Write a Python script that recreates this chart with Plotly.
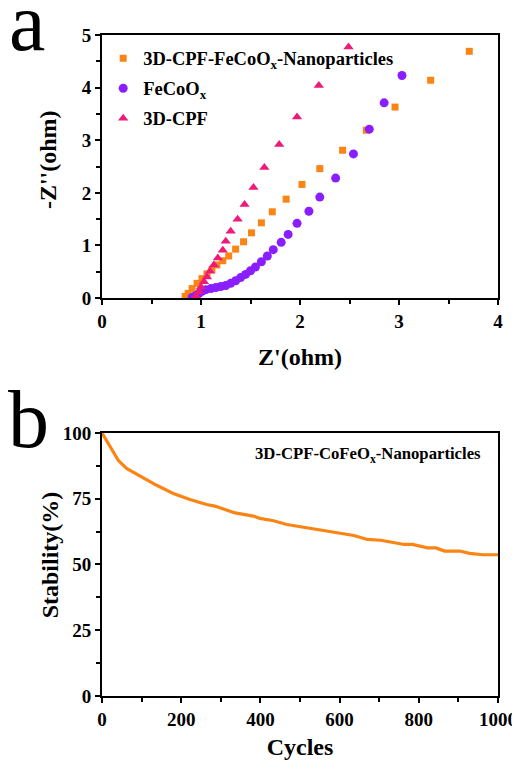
import plotly.graph_objects as go
from plotly.subplots import make_subplots

# ---- Panel a: Nyquist data ----
nano_x = [0.84, 0.87, 0.91, 0.96, 1.01, 1.06, 1.11, 1.16, 1.22, 1.28, 1.35, 1.43, 1.51, 1.61, 1.72, 1.86, 2.02, 2.20, 2.43, 2.67, 2.96, 3.32, 3.71]
nano_y = [0.03, 0.09, 0.18, 0.28, 0.37, 0.46, 0.54, 0.63, 0.71, 0.80, 0.93, 1.07, 1.24, 1.43, 1.64, 1.88, 2.16, 2.46, 2.81, 3.19, 3.63, 4.14, 4.69]

fecoo_x = [0.91, 0.94, 0.98, 1.01, 1.05, 1.10, 1.15, 1.20, 1.25, 1.30, 1.35, 1.40, 1.45, 1.50, 1.55, 1.61, 1.67, 1.73, 1.81, 1.88, 1.97, 2.09, 2.20, 2.36, 2.54, 2.70, 2.85, 3.03]
fecoo_y = [0.01, 0.04, 0.09, 0.13, 0.16, 0.18, 0.20, 0.22, 0.24, 0.28, 0.33, 0.39, 0.45, 0.52, 0.59, 0.69, 0.80, 0.92, 1.06, 1.21, 1.42, 1.65, 1.92, 2.28, 2.74, 3.21, 3.71, 4.23]

cpf_x = [0.95, 0.98, 1.00, 1.03, 1.06, 1.09, 1.13, 1.17, 1.22, 1.25, 1.30, 1.37, 1.44, 1.53, 1.64, 1.79, 1.97, 2.19, 2.49]
cpf_y = [0.04, 0.12, 0.21, 0.31, 0.40, 0.51, 0.63, 0.76, 0.91, 1.08, 1.27, 1.50, 1.78, 2.10, 2.48, 2.92, 3.44, 4.04, 4.77]

# ---- Panel b: stability data ----
cycles = [0, 20, 41, 62, 100, 138, 180, 222, 264, 285, 336, 382, 399, 433, 467, 526, 577, 636, 670, 704, 763, 784, 822, 843, 865, 903, 928, 962, 1000]
stability = [100, 94.7, 89.6, 86.5, 83.3, 80.1, 77.0, 74.7, 72.8, 72.2, 69.6, 68.4, 67.5, 66.6, 65.2, 63.7, 62.4, 61.0, 59.5, 59.2, 57.6, 57.6, 56.3, 56.3, 55.1, 55.1, 54.2, 53.7, 53.7]

a_ticks = [0, 1, 2, 3, 4]
a_yticks = [0, 1, 2, 3, 4, 5]
b_xticks = [0, 200, 400, 600, 800, 1000]
b_yticks = [0, 25, 50, 75, 100]

ORANGE = "#FA8414"
PURPLE = "#8A1EFF"
PINK = "#EE1A7A"
FONT = "Liberation Serif, Times New Roman, serif"

fig = make_subplots(rows=2, cols=1, vertical_spacing=0.204)

fig.add_trace(go.Scatter(x=nano_x, y=nano_y, mode="markers", name="3D-CPF-FeCoO<sub>x</sub>-Nanoparticles",
                         legendgroup="g1",
                         marker=dict(symbol="square", size=7, color=ORANGE)), row=1, col=1)
fig.add_trace(go.Scatter(x=fecoo_x, y=fecoo_y, mode="markers", name="FeCoO<sub>x</sub>",
                         legendgroup="g2",
                         marker=dict(symbol="circle", size=9, color=PURPLE)), row=1, col=1)
fig.add_trace(go.Scatter(x=cpf_x, y=cpf_y, mode="markers", name="3D-CPF",
                         legendgroup="g3",
                         marker=dict(symbol="triangle-up", size=9, color=PINK)), row=1, col=1)
fig.add_trace(go.Scatter(x=cycles, y=stability, mode="lines", showlegend=False,
                         line=dict(color=ORANGE, width=3.2)), row=2, col=1)

axis_common = dict(showline=True, linecolor="black", linewidth=2, mirror=True,
                   ticks="outside", ticklen=5, tickwidth=2, tickcolor="black",
                   showgrid=False, zeroline=False, automargin=False,
                   tickfont=dict(family=FONT, size=19, color="black", weight="bold"),
                   title_font=dict(family=FONT, size=24, color="black", weight="bold"))

fig.update_xaxes(range=[0, 4], tickvals=a_ticks, title_text="Z'(ohm)", title_standoff=17,
                 minor=dict(dtick=0.5, ticks="outside", ticklen=4, tickwidth=2, tickcolor="black"),
                 row=1, col=1, **axis_common)
fig.update_yaxes(range=[0, 5], tickvals=a_yticks,
                 minor=dict(dtick=0.5, ticks="outside", ticklen=4, tickwidth=2, tickcolor="black"),
                 row=1, col=1, **axis_common)
fig.update_xaxes(range=[0, 1000], tickvals=b_xticks, title_text="Cycles", title_standoff=9,
                 minor=dict(dtick=100, ticks="outside", ticklen=4, tickwidth=2, tickcolor="black"),
                 row=2, col=1, **axis_common)
fig.update_yaxes(range=[0, 100], tickvals=b_yticks,
                 minor=dict(dtick=12.5, ticks="outside", ticklen=4, tickwidth=2, tickcolor="black"),
                 row=2, col=1, **axis_common)

# page body has an 8px margin; size the figure so the plot areas land where the reference has them
fig.update_layout(
    width=512, height=761,
    margin=dict(l=94, r=22, t=27, b=73),
    plot_bgcolor="white", paper_bgcolor="white",
    font=dict(family=FONT, color="black"),
    legend=dict(x=0.003, y=0.993, xanchor="left", yanchor="top",
                bgcolor="rgba(0,0,0,0)", tracegroupgap=3,
                font=dict(family=FONT, size=18.5, color="black", weight="bold")),
)

title_font = dict(family=FONT, size=24, color="black", weight="bold")
fig.add_annotation(text="-Z''(ohm)", xref="paper", yref="paper", x=-0.136, y=0.811,
                   xanchor="center", yanchor="middle", textangle=-90, showarrow=False,
                   font=title_font)
fig.add_annotation(text="Stability(%)", xref="paper", yref="paper", x=-0.131, y=0.213,
                   xanchor="center", yanchor="middle", textangle=-90, showarrow=False,
                   font=title_font)

fig.add_annotation(text="3D-CPF-CoFeO<sub>x</sub>-Nanoparticles", xref="x2 domain", yref="y2 domain",
                   x=0.962, y=0.915, xanchor="right", yanchor="middle", showarrow=False,
                   font=dict(family=FONT, size=16.7, color="black", weight="bold"))
fig.add_annotation(text="a", xref="paper", yref="paper", x=-0.24, y=1.091,
                   xanchor="left", yanchor="top", showarrow=False,
                   font=dict(family=FONT, size=82, color="black"))
fig.add_annotation(text="b", xref="paper", yref="paper", x=-0.243, y=0.49,
                   xanchor="left", yanchor="top", showarrow=False,
                   font=dict(family=FONT, size=82, color="black"))

fig.write_html("out.html")
